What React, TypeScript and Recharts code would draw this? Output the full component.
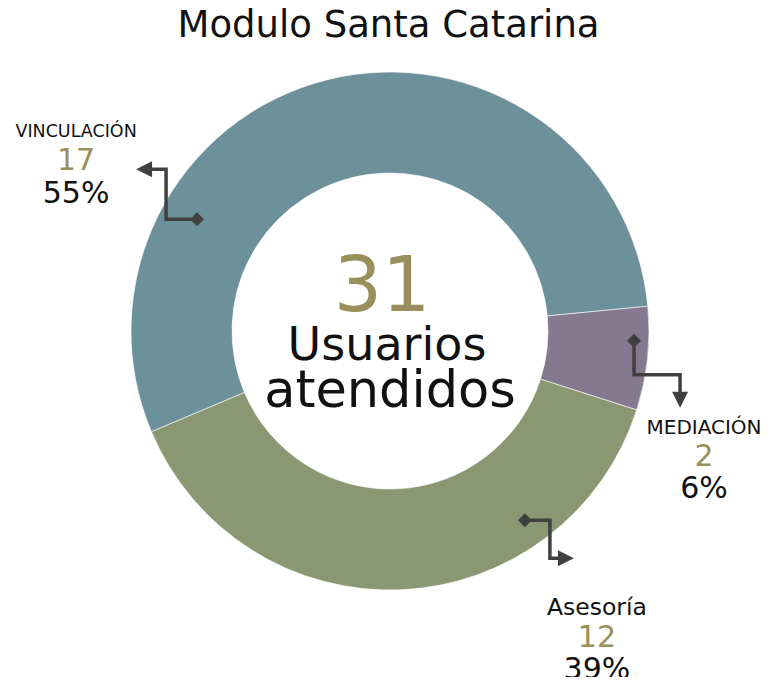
import React from "react";
import { PieChart, Pie, Cell } from "recharts";

const TITLE = "Modulo Santa Catarina";
const CATEGORIES = ["VINCULACIÓN", "MEDIACIÓN", "Asesoría"];
const USERS = [17, 2, 12];
const CENTER_CAPTION = ["Usuarios", "atendidos"];

const COLORS = ["#6D919A", "#84798F", "#8B9673"];
const GOLD = "#998F5A";
const CONNECTOR = "#404040";
const FONT = "'DejaVu Sans', sans-serif";
const RADIAN = Math.PI / 180;

interface Slice {
  name: string;
  value: number;
}

const data: Slice[] = CATEGORIES.map((name, i) => ({ name, value: USERS[i] }));
const total = USERS.reduce((a, b) => a + b, 0);

// callout layout: anchor (angle in deg, fraction of outer radius), elbow steps, text offset from arrow tip
const CALLOUTS = [
  { angle: 149.9, r: 0.861, steps: [[-31, 0], [0, -50], [-30, 0]], text: [-60, -32], gap: 33, nameSize: 17.5 },
  { angle: -2.3, r: 0.943, steps: [[0, 34], [46, 0], [0, 33]], text: [24, 26], gap: 32, nameSize: 20 },
  { angle: -54.5, r: 0.897, steps: [[25, 0], [0, 38], [24, 0]], text: [23, 57], gap: 32, nameSize: 23.5 },
];

function CenterText({ cx, cy }: { cx: number; cy: number }) {
  return (
    <g>
      <text x={cx - 8} y={cy - 20} textAnchor="middle" fontFamily={FONT} fontSize={76} fill={GOLD}>
        {total}
      </text>
      <text x={cx - 3} y={cy + 29} textAnchor="middle" fontFamily={FONT} fontSize={46} fill="#111">
        {CENTER_CAPTION[0]}
      </text>
      <text x={cx} y={cy + 76} textAnchor="middle" fontFamily={FONT} fontSize={51} fill="#111">
        {CENTER_CAPTION[1]}
      </text>
    </g>
  );
}

function renderCallout(props: any) {
  const { cx, cy, outerRadius, index, value, percent, name } = props;
  const c = CALLOUTS[index];
  const a = c.angle * RADIAN;
  const x0 = cx + outerRadius * c.r * Math.cos(a);
  const y0 = cy - outerRadius * c.r * Math.sin(a);

  const pts: number[][] = [[x0, y0]];
  c.steps.forEach(([dx, dy]) => {
    const [px, py] = pts[pts.length - 1];
    pts.push([px + dx, py + dy]);
  });
  const [tx, ty] = pts[pts.length - 1];
  const [lx, ly] = c.steps[c.steps.length - 1];
  const len = Math.hypot(lx, ly);
  const ux = lx / len;
  const uy = ly / len;
  const head = 16;
  const hw = 8;
  const bx = tx - ux * head;
  const by = ty - uy * head;
  const linePts = [...pts.slice(0, -1), [bx + ux, by + uy]];
  const d = 7;

  const textX = tx + c.text[0];
  const nameY = ty + c.text[1];

  return (
    <g key={`callout-${index}`}>
      {index === 0 && <CenterText cx={cx} cy={cy} />}
      <polyline
        points={linePts.map((p) => p.join(",")).join(" ")}
        fill="none"
        stroke={CONNECTOR}
        strokeWidth={3.5}
        strokeLinejoin="miter"
      />
      <polygon
        points={`${x0 - d},${y0} ${x0},${y0 - d} ${x0 + d},${y0} ${x0},${y0 + d}`}
        fill={CONNECTOR}
      />
      <polygon
        points={`${tx},${ty} ${bx - uy * hw},${by + ux * hw} ${bx + uy * hw},${by - ux * hw}`}
        fill={CONNECTOR}
      />
      <text x={textX} y={nameY} textAnchor="middle" fontFamily={FONT} fontSize={c.nameSize} fill="#111">
        {name}
      </text>
      <text x={textX} y={nameY + c.gap} textAnchor="middle" fontFamily={FONT} fontSize={30} fill={GOLD}>
        {value}
      </text>
      <text x={textX} y={nameY + 2 * c.gap} textAnchor="middle" fontFamily={FONT} fontSize={30} fill="#111">
        {`${Math.round(percent * 100)}%`}
      </text>
    </g>
  );
}

export default function App() {
  return (
    <div style={{ position: "relative", margin: -8, width: 773, height: 685, background: "#fff" }}>
      <div
        style={{
          position: "absolute",
          top: 6,
          left: 0,
          width: 777,
          textAlign: "center",
          fontFamily: FONT,
          fontSize: 37,
          lineHeight: "37px",
          color: "#111",
        }}
      >
        {TITLE}
      </div>
      <PieChart width={773} height={685} margin={{ top: 0, right: 0, bottom: 0, left: 0 }}>
        <Pie
          data={data}
          dataKey="value"
          nameKey="name"
          cx={390}
          cy={331}
          innerRadius={158}
          outerRadius={259}
          startAngle={202.9}
          endAngle={-157.1}
          stroke="#fff"
          strokeWidth={0.6}
          label={renderCallout}
          labelLine={false}
          isAnimationActive={false}
        >
          {data.map((entry, index) => (
            <Cell key={`cell-${index}`} fill={COLORS[index % COLORS.length]} />
          ))}
        </Pie>
      </PieChart>
    </div>
  );
}
